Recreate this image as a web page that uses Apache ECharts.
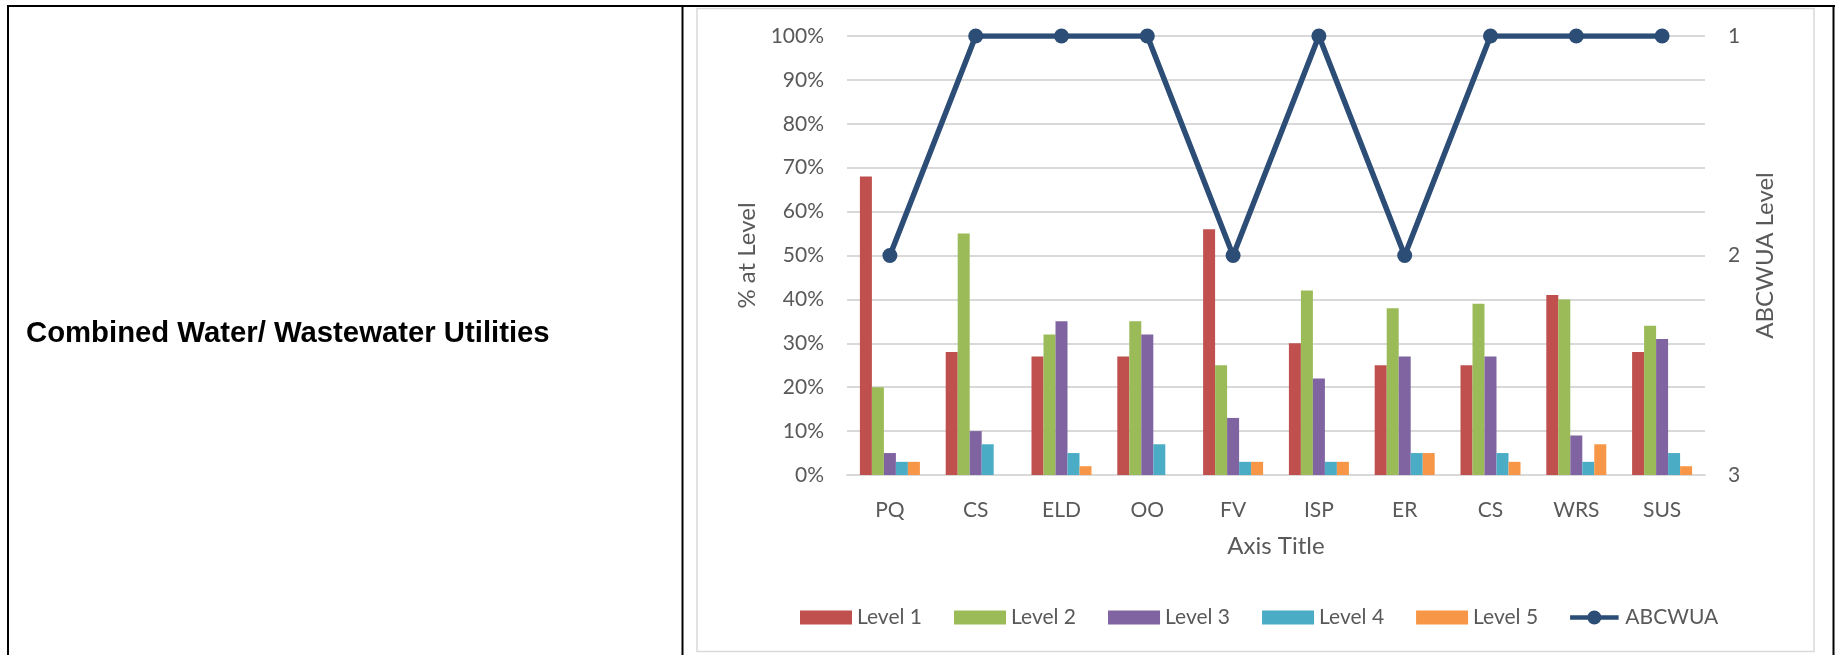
<!DOCTYPE html>
<html>
<head>
<meta charset="utf-8">
<title>Combined Water/ Wastewater Utilities</title>
<script src="https://cdn.jsdelivr.net/npm/echarts@6/dist/echarts.min.js"></script>
<style>
  html, body { margin: 0; padding: 0; background: #fff; }
  #chart { width: 1835px; height: 655px; }
</style>
</head>
<body>
<div id="chart"></div>
<script>
// Practice areas (x categories)
const categories = ['PQ', 'CS', 'ELD', 'OO', 'FV', 'ISP', 'ER', 'CS', 'WRS', 'SUS'];

// Share of respondents at each level, in percent
const level1 = [68, 28, 27, 27, 56, 30, 25, 25, 41, 28];
const level2 = [20, 55, 32, 35, 25, 42, 38, 39, 40, 34];
const level3 = [5, 10, 35, 32, 13, 22, 27, 27, 9, 31];
const level4 = [3, 7, 5, 7, 3, 3, 5, 5, 3, 5];
const level5 = [3, 0, 2, 0, 3, 3, 5, 3, 7, 2];

// ABCWUA's own level per practice area (1 = top)
const abcwua = [2, 1, 1, 1, 2, 1, 2, 1, 1, 1];

const levelNames = ['Level 1', 'Level 2', 'Level 3', 'Level 4', 'Level 5'];
const levelData = [level1, level2, level3, level4, level5];
const levelColors = ['#C0504D', '#9BBB59', '#8064A2', '#4BACC6', '#F79646'];
const lineColor = '#2C4D75';
const textColor = '#595959';
const gridColor = '#D9D9D9';
const font = 'Lato';

// Legend glyph for the line series: thick stroke with a round marker
const lineMarkerIcon = 'path://M0,4.5 L52,4.5 L52,9.5 L0,9.5 Z M18.5,7 A7.5,7.5 0 1,1 33.5,7 A7.5,7.5 0 1,1 18.5,7 Z';

const chart = echarts.init(document.getElementById('chart'), null, { renderer: 'canvas' });

const barSeries = levelNames.map((name, i) => ({
  name: name,
  type: 'bar',
  yAxisIndex: 0,
  data: levelData[i],
  barWidth: 12,
  barGap: '0%',
  itemStyle: { color: levelColors[i] },
  emphasis: { disabled: true }
}));

const option = {
  animation: false,
  textStyle: { fontFamily: font },
  graphic: [
    // table frame
    { type: 'line', shape: { x1: 7, y1: 6, x2: 1835, y2: 6 }, style: { stroke: '#000', lineWidth: 2 } },
    { type: 'line', shape: { x1: 8, y1: 5, x2: 8, y2: 655 }, style: { stroke: '#000', lineWidth: 2 } },
    { type: 'line', shape: { x1: 682.5, y1: 5, x2: 682.5, y2: 655 }, style: { stroke: '#000', lineWidth: 2 } },
    { type: 'line', shape: { x1: 1833.5, y1: 5, x2: 1833.5, y2: 655 }, style: { stroke: '#000', lineWidth: 2 } },
    // chart border
    { type: 'rect', shape: { x: 697, y: 8.5, width: 1117, height: 643 },
      style: { fill: 'none', stroke: gridColor, lineWidth: 1.5 } },
    // row label
    { type: 'text', x: 26, y: 334,
      style: { text: 'Combined Water/ Wastewater Utilities', fill: '#000',
        font: 'bold 29.3px "Liberation Sans", Arial, sans-serif', verticalAlign: 'middle', align: 'left' } }
  ],
  legend: {
    left: 795,
    top: 602,
    itemWidth: 52,
    itemHeight: 14,
    itemGap: 32,
    textStyle: { color: textColor, fontSize: 21, fontFamily: font },
    data: levelNames.map(n => ({ name: n, icon: 'rect' }))
      .concat([{ name: 'ABCWUA', icon: lineMarkerIcon, itemStyle: { color: lineColor } }])
  },
  grid: { left: 847, right: 130, top: 36, bottom: 180 },
  xAxis: {
    type: 'category',
    data: categories,
    name: 'Axis Title',
    nameLocation: 'middle',
    nameGap: 59,
    nameTextStyle: { color: textColor, fontSize: 24, fontFamily: font },
    axisLine: { lineStyle: { color: gridColor, width: 2 } },
    axisTick: { show: false },
    axisLabel: { color: textColor, fontSize: 21, margin: 25, fontFamily: font }
  },
  yAxis: [
    {
      type: 'value',
      min: 0,
      max: 100,
      interval: 10,
      name: '% at Level',
      nameLocation: 'middle',
      nameGap: 88,
      nameTextStyle: { color: textColor, fontSize: 24, fontFamily: font },
      axisLine: { show: false },
      axisTick: { show: false },
      axisLabel: { color: textColor, fontSize: 21, margin: 23, formatter: '{value}%', fontFamily: font },
      splitLine: { lineStyle: { color: gridColor, width: 2 } }
    },
    {
      type: 'value',
      min: 1,
      max: 3,
      interval: 1,
      inverse: true,
      name: 'ABCWUA Level',
      nameLocation: 'middle',
      nameGap: 48,
      nameTextStyle: { color: textColor, fontSize: 24, fontFamily: font },
      axisLine: { show: false },
      axisTick: { show: false },
      axisLabel: { color: textColor, fontSize: 21, margin: 23, fontFamily: font },
      splitLine: { show: false }
    }
  ],
  series: barSeries.concat([{
    name: 'ABCWUA',
    type: 'line',
    yAxisIndex: 1,
    data: abcwua,
    symbol: 'circle',
    symbolSize: 15,
    lineStyle: { color: lineColor, width: 5.5 },
    itemStyle: { color: lineColor },
    emphasis: { disabled: true },
    z: 5
  }])
};

chart.setOption(option);
</script>
</body>
</html>
